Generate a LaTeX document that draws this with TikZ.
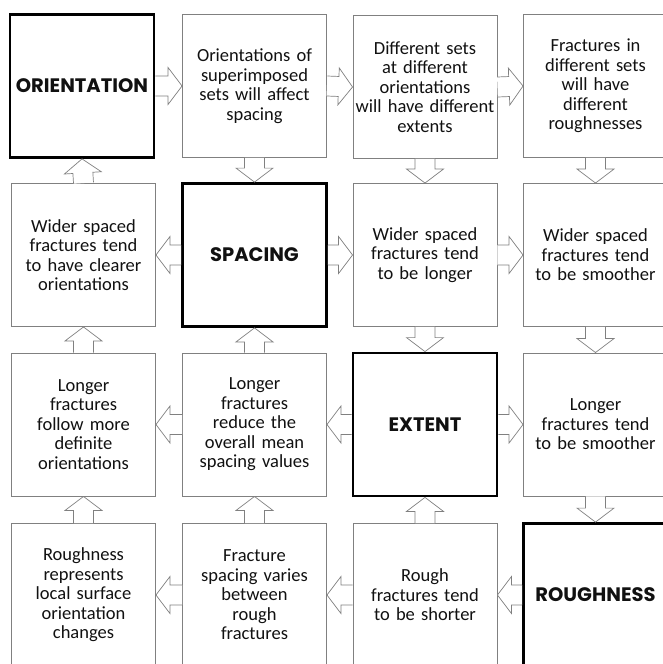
\documentclass[tikz,border=0pt]{standalone}
\usepackage{fontspec}
\setmainfont{Carlito}
\newfontfamily\titlefont{Poppins}[UprightFont=* Bold]
\usetikzlibrary{calc}
\definecolor{boxGrey}{HTML}{808080}
\definecolor{textDark}{HTML}{111111}

% hollow block arrow from one anchor to another
\newcommand{\fatarrow}[2]{%
  \path (#1) coordinate (fa-s) (#2) coordinate (fa-t) ($(#2)!14pt!(#1)$) coordinate (fa-h);
  \draw[fatline] ($(fa-s)!10pt!90:(fa-t)$) -- ($(fa-h)!10pt!90:(fa-t)$) -- ($(fa-h)!18.5pt!90:(fa-t)$)
    -- (fa-t) -- ($(fa-h)!18.5pt!-90:(fa-t)$) -- ($(fa-h)!10pt!-90:(fa-t)$) -- ($(fa-s)!10pt!-90:(fa-t)$);
}

\begin{document}
\begin{tikzpicture}[x=1pt, y=1pt,
    box/.style={draw=boxGrey, line width=0.9pt, fill=white, minimum width=144pt, minimum height=143pt,
      inner sep=0pt, text width=144pt, align=center, text=textDark,
      font=\fontsize{18.5}{19.5}\selectfont},
    keybox/.style={box, draw=black, line width=2.8pt, font=\titlefont\fontsize{19.5}{20}\selectfont},
    fatline/.style={draw=boxGrey, line width=0.7pt, fill=white, line join=miter}]
  \useasboundingbox (0,0) rectangle (662,-664);
  % row 1
  \node[keybox] (orient) at (82,-86) {ORIENTATION};
  \node[box] (oriSpc) at (254.5,-86) {Orientations of\\ superimposed\\ sets will affect\\ spacing};
  \node[box] (oriExt) at (425,-87) {Different sets\\ at different\\ orientations\\ will have different\\ extents};
  \node[box] (oriRgh) at (595.5,-86) {Fractures in\\ different sets\\ will have\\ different\\ roughnesses};
  % row 2
  \node[box] (spcOri) at (83.5,-255) {Wider spaced\\ fractures tend\\ to have clearer\\ orientations};
  \node[keybox] (spacing) at (254.5,-255) {SPACING};
  \node[box] (spcExt) at (425,-255) {Wider spaced\\ fractures tend\\ to be longer};
  \node[box] (spcRgh) at (595.5,-255) {Wider spaced\\ fractures tend\\ to be smoother};
  % row 3
  \node[box] (extOri) at (83.5,-424.5) {Longer\\ fractures\\ follow more\\ definite\\ orientations};
  \node[box] (extSpc) at (254.5,-424.5) {Longer\\ fractures\\ reduce the\\ overall mean\\ spacing values};
  \node[keybox] (extent) at (425,-424.5) {EXTENT};
  \node[box] (extRgh) at (595.5,-424.5) {Longer\\ fractures tend\\ to be smoother};
  % row 4
  \node[box] (rghOri) at (83.5,-595) {Roughness\\ represents\\ local surface\\ orientation\\ changes};
  \node[box] (rghSpc) at (254.5,-595) {Fracture\\ spacing varies\\ between\\ rough\\ fractures};
  \node[box] (rghExt) at (425,-595) {Rough\\ fractures tend\\ to be shorter};
  \node[keybox] (rough) at (595.5,-595) {ROUGHNESS};
  % across
  \fatarrow{orient.east}{oriSpc.west}
  \fatarrow{oriSpc.east}{oriExt.west}
  \fatarrow{oriExt.east}{oriRgh.west}
  \fatarrow{spacing.west}{spcOri.east}
  \fatarrow{spacing.east}{spcExt.west}
  \fatarrow{spcExt.east}{spcRgh.west}
  \fatarrow{extent.west}{extSpc.east}
  \fatarrow{extSpc.west}{extOri.east}
  \fatarrow{extent.east}{extRgh.west}
  \fatarrow{rough.west}{rghExt.east}
  \fatarrow{rghExt.west}{rghSpc.east}
  \fatarrow{rghSpc.west}{rghOri.east}
  % down and up
  \fatarrow{oriSpc.south}{spacing.north}
  \fatarrow{oriExt.south}{spcExt.north}
  \fatarrow{oriRgh.south}{spcRgh.north}
  \fatarrow{spcExt.south}{extent.north}
  \fatarrow{spcRgh.south}{extRgh.north}
  \fatarrow{extRgh.south}{rough.north}
  \fatarrow{spcOri.north}{orient.south}
  \fatarrow{extOri.north}{spcOri.south}
  \fatarrow{extSpc.north}{spacing.south}
  \fatarrow{rghOri.north}{extOri.south}
  \fatarrow{rghSpc.north}{extSpc.south}
  \fatarrow{rghExt.north}{extent.south}
\end{tikzpicture}
\end{document}
